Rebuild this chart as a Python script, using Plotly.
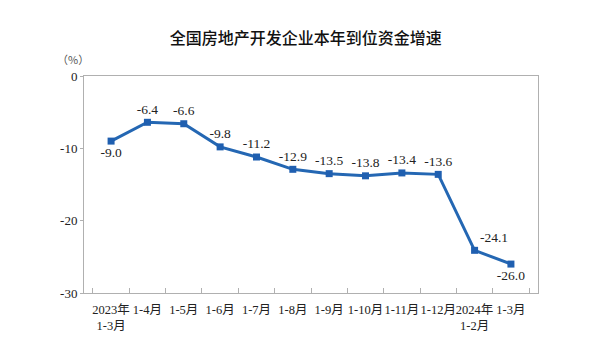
import plotly.graph_objects as go

categories = ["2023年<br>1-3月", "1-4月", "1-5月", "1-6月", "1-7月", "1-8月", "1-9月",
              "1-10月", "1-11月", "1-12月", "2024年<br>1-2月", "1-3月"]
values = [-9.0, -6.4, -6.6, -9.8, -11.2, -12.9, -13.5, -13.8, -13.4, -13.6, -24.1, -26.0]
labels = ["-9.0", "-6.4", "-6.6", "-9.8", "-11.2", "-12.9", "-13.5", "-13.8", "-13.4", "-13.6", "-24.1", "-26.0"]
label_pos = ["bottom center", "top center", "top center", "top center", "top center", "top center",
             "top center", "top center", "top center", "top center", "top right", "bottom center"]
y_ticks = [0, -10, -20, -30]

serif = "Liberation Serif, Times New Roman, serif"
cjk = "Liberation Serif, Noto Sans CJK SC, serif"

fig = go.Figure()
fig.add_trace(go.Scatter(
    x=categories, y=values, mode="lines+markers+text",
    text=labels, textposition=label_pos,
    textfont=dict(family=serif, size=13.5, color="#222222"),
    line=dict(color="#2467b3", width=3),
    marker=dict(symbol="square", size=7, color="#1f5fb0"),
    cliponaxis=False, showlegend=False,
))

fig.update_layout(
    width=591, height=356,
    margin=dict(l=76, r=61, t=68, b=71, autoexpand=False),
    paper_bgcolor="white", plot_bgcolor="white",
    title=dict(text="全国房地产开发企业本年到位资金增速", x=0.504, xanchor="center",
               y=0.915, yanchor="middle",
               font=dict(family="Noto Sans CJK SC", size=16, color="#111111", weight=500)),
    xaxis=dict(showgrid=False, showline=True, linecolor="#b0b0b0", linewidth=1, mirror=True,
               ticks="inside", ticklen=5, tickcolor="#b0b0b0", tickson="boundaries",
               tickangle=0, automargin=False, ticklabelstandoff=5,
               tickfont=dict(family=cjk, size=12.5, color="#222222"), fixedrange=True),
    yaxis=dict(range=[-30, 0], tickvals=y_ticks, ticktext=[str(v) for v in y_ticks],
               showgrid=False, zeroline=False, showline=True, linecolor="#b0b0b0", linewidth=1,
               mirror=True, ticks="outside", ticklen=3, tickcolor="#b0b0b0", automargin=False,
               tickfont=dict(family=serif, size=13, color="#222222")),
    annotations=[dict(text="（%）", xref="paper", yref="paper", x=0.015, y=1.08,
                      xanchor="right", yanchor="middle", showarrow=False,
                      font=dict(family="Noto Sans CJK SC", size=11, color="#555555"))],
)

fig.write_html("out.html")
